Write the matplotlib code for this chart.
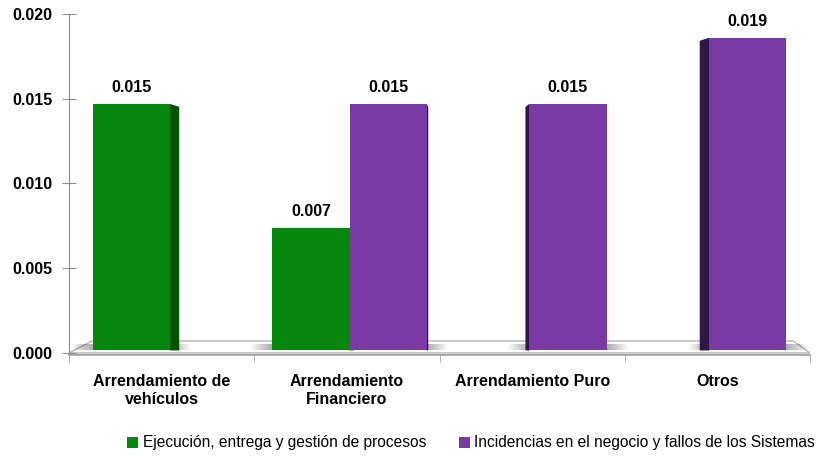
import numpy as np
import matplotlib.pyplot as plt
from matplotlib.patches import Polygon, Patch

# datos
categorias = ['Arrendamiento de\nvehículos', 'Arrendamiento\nFinanciero', 'Arrendamiento Puro', 'Otros']
ejecucion = [0.0147, 0.0074, None, None]
incidencias = [None, 0.0147, 0.0147, 0.0186]
series = ['Ejecución, entrega y gestión de procesos', 'Incidencias en el negocio y fallos de los Sistemas']

verde, verde_lado = '#07870B', '#005300'
morado, morado_lado = '#7A3AA6', '#2E1646'

plt.rcParams['font.family'] = ['Liberation Sans', 'DejaVu Sans']

fig = plt.figure(figsize=(8.3, 4.57), dpi=100)
ax = fig.add_axes([69/830, (457-355)/457, (810-69)/830, 341/457])
ax.set_xlim(-0.5, 3.5)
ax.set_ylim(-0.000118, 0.020)

ancho = 0.416
base = 0.00015
piso = 0.00071

# piso (losa gris)
ax.add_patch(Polygon([(-0.5, 0), (3.5, 0), (3.5 - 0.09, piso), (-0.5 + 0.125, piso)],
                     closed=True, facecolor='white', edgecolor='#b4b4b4', lw=1.0, zorder=1))
ax.plot([-0.5, 3.5], [-0.00004, -0.00004], color='#cfcfcf', lw=2, zorder=1)


def barra(xc, valor, color, lado):
    x0 = xc - ancho / 2
    x1 = xc + ancho / 2
    # sombra difusa sobre el piso
    for i in range(10):
        d = 0.011 * (i + 1)
        ax.fill_between([x0 - d, x1 + d], base + 0.00003, base + 0.0004,
                        color='black', alpha=0.035, lw=0, zorder=2)
    # cara lateral (perspectiva desde el centro)
    dx = 0.031 * (1.5 - xc)
    borde = x1 if dx > 0 else x0
    ax.add_patch(Polygon([(borde, base), (borde, valor), (borde + dx, valor - 0.00018), (borde + dx, base)],
                         closed=True, facecolor=lado, edgecolor='none', zorder=3))
    ax.bar(xc, valor - base, width=ancho, bottom=base, color=color, zorder=4)
    ax.text(xc, valor + 0.0005, f'{valor:.3f}', ha='center', va='bottom',
            fontsize=11.5, fontweight='bold', zorder=5)


for i in range(len(categorias)):
    corr = 0.029 * (1.5 - i)
    if ejecucion[i] is not None:
        barra(i - ancho / 2 + corr, ejecucion[i], verde, verde_lado)
    if incidencias[i] is not None:
        barra(i + ancho / 2 + corr, incidencias[i], morado, morado_lado)

# ejes
for s in ['top', 'right']:
    ax.spines[s].set_visible(False)
ax.spines['left'].set_color('#8c8c8c')
ax.spines['bottom'].set_color('#a0a0a0')
ax.spines['bottom'].set_linewidth(1.2)
ax.set_yticks(np.arange(0, 0.0201, 0.005))
ax.set_yticklabels([f'{v:.3f}' for v in np.arange(0, 0.0201, 0.005)])
ax.tick_params(axis='y', direction='inout', length=10, color='#8c8c8c', labelsize=11.5, pad=7)
ax.set_xticks(range(len(categorias)))
ax.set_xticklabels(categorias, fontsize=11.5, fontweight='bold')
ax.set_xticks(np.arange(-0.5, 3.6, 1), minor=True)
ax.tick_params(axis='x', which='major', length=0, pad=14)
ax.tick_params(axis='x', which='minor', length=5, color='#a0a0a0')
for t in ax.get_yticklabels():
    t.set_fontweight('bold')

manijas = [Patch(facecolor=verde), Patch(facecolor=morado)]
fig.legend(manijas, series, loc='center left', bbox_to_anchor=(121/830, 14/457), ncol=2,
           frameon=False, fontsize=11.2, handlelength=0.7, handleheight=0.7,
           handletextpad=0.3, columnspacing=2.1, borderaxespad=0)

fig.savefig('out.png', dpi=100)
